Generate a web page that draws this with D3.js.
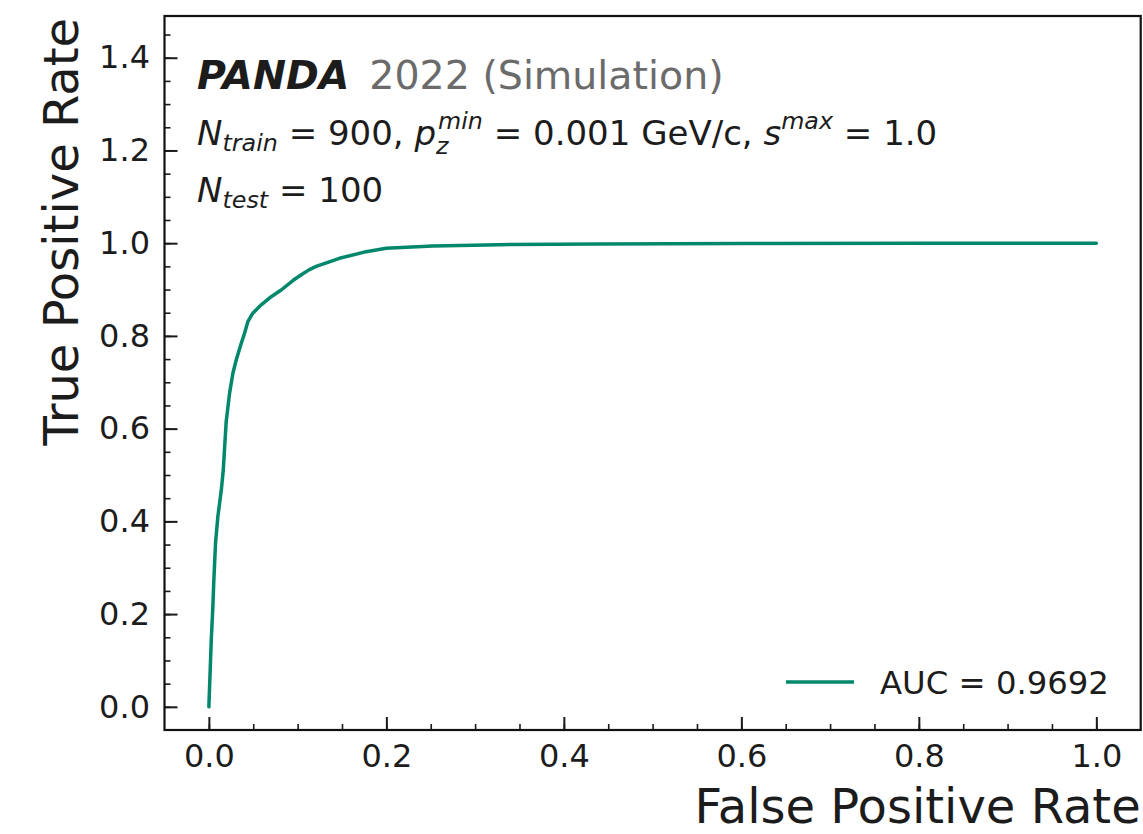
<!DOCTYPE html>
<html>
<head>
<meta charset="utf-8">
<script src="https://cdn.jsdelivr.net/npm/d3@7"></script>
<style>
  html, body { margin: 0; padding: 0; background: #fff; }
  svg { display: block; }
  text { font-family: "DejaVu Sans", sans-serif; }
</style>
</head>
<body>
<svg id="chart" width="1143" height="834"></svg>
<script>
// ---- data ----
const fpr = [0, 0.0027, 0.0045, 0.0056, 0.0075, 0.0101, 0.0140, 0.0162, 0.0195, 0.0233, 0.0270, 0.0308,
  0.0365, 0.0402, 0.0439, 0.0495, 0.0590, 0.0702, 0.0815, 0.0950, 0.1050, 0.1133, 0.1209, 0.1471, 0.1772,
  0.1997, 0.2521, 0.3272, 0.4398, 0.6, 0.8, 1.0];
const tpr = [0, 0.144, 0.216, 0.273, 0.353, 0.410, 0.4675, 0.510, 0.615, 0.676, 0.719, 0.748,
  0.784, 0.8056, 0.8306, 0.849, 0.867, 0.8846, 0.899, 0.920, 0.933, 0.943, 0.950, 0.9674, 0.9817,
  0.989, 0.994, 0.9968, 0.9983, 0.9992, 0.9997, 1.0];
const xTicks = [0.0, 0.2, 0.4, 0.6, 0.8, 1.0];
const yTicks = [0.0, 0.2, 0.4, 0.6, 0.8, 1.0, 1.2, 1.4];
const xMinorTicks = d3.range(0, 21).map(i => i * 0.05);
const yMinorTicks = d3.range(0, 30).map(i => i * 0.05);
const legendLabel = "AUC = 0.9692";
const xLabel = "False Positive Rate";
const yLabel = "True Positive Rate";

// ---- layout ----
const L = 164.5, R = 1140.7, T = 16, B = 730;
const lineColor = "#00876c";
const textColor = "#1c1c1c";

const svg = d3.select("#chart");
const x = d3.scaleLinear().domain([-0.05, 1.05]).range([L, R]);
const y = d3.scaleLinear().domain([-0.05, 1.49]).range([B, T]);

// curve
const pts = fpr.map((d, i) => [d, tpr[i]]);
svg.append("path")
  .datum(pts)
  .attr("fill", "none")
  .attr("stroke", lineColor)
  .attr("stroke-width", 3.5)
  .attr("stroke-linejoin", "round")
  .attr("stroke-linecap", "round")
  .attr("d", d3.line().x(d => x(d[0])).y(d => y(d[1])));

// axes: minor ticks
svg.append("g").attr("transform", `translate(0,${B})`)
  .call(d3.axisBottom(x).tickValues(xMinorTicks).tickSize(-6).tickFormat(""))
  .call(g => g.select(".domain").remove())
  .call(g => g.selectAll("line").attr("stroke", "#1a1a1a").attr("stroke-width", 1.6));
svg.append("g").attr("transform", `translate(${L},0)`)
  .call(d3.axisLeft(y).tickValues(yMinorTicks).tickSize(-6).tickFormat(""))
  .call(g => g.select(".domain").remove())
  .call(g => g.selectAll("line").attr("stroke", "#1a1a1a").attr("stroke-width", 1.6));

// major ticks
svg.append("g").attr("transform", `translate(0,${B})`)
  .call(d3.axisBottom(x).tickValues(xTicks).tickSize(-13).tickPadding(14).tickFormat(d3.format(".1f")))
  .call(g => g.select(".domain").remove())
  .call(g => g.selectAll("line").attr("stroke", "#1a1a1a").attr("stroke-width", 2))
  .call(g => g.selectAll("text").attr("font-size", 32).attr("fill", textColor)
    .style("font-family", "'DejaVu Sans', sans-serif"));
svg.append("g").attr("transform", `translate(${L},0)`)
  .call(d3.axisLeft(y).tickValues(yTicks).tickSize(-13).tickPadding(14.5).tickFormat(d3.format(".1f")))
  .call(g => g.select(".domain").remove())
  .call(g => g.selectAll("line").attr("stroke", "#1a1a1a").attr("stroke-width", 2))
  .call(g => g.selectAll("text").attr("font-size", 32).attr("fill", textColor)
    .style("font-family", "'DejaVu Sans', sans-serif"));

// frame
svg.append("rect")
  .attr("x", L).attr("y", T).attr("width", R - L).attr("height", B - T)
  .attr("fill", "none").attr("stroke", "#111").attr("stroke-width", 2.2);

// axis labels
svg.append("text")
  .attr("x", R).attr("y", 823)
  .attr("text-anchor", "end")
  .attr("font-size", 48).attr("fill", textColor)
  .text(xLabel);
svg.append("text")
  .attr("transform", `translate(78,${T + 2}) rotate(-90)`)
  .attr("text-anchor", "end")
  .attr("font-size", 48).attr("fill", textColor)
  .text(yLabel);

// legend
const lgY = 682;
svg.append("line")
  .attr("x1", 786).attr("x2", 854).attr("y1", lgY).attr("y2", lgY)
  .attr("stroke", lineColor).attr("stroke-width", 3.5);
svg.append("text")
  .attr("x", 880).attr("y", lgY + 12)
  .attr("font-size", 32.3).attr("fill", textColor)
  .text(legendLabel);

// rich text helper: one <text> element, positioned tspans
function rich(x0, y0, segs) {
  let cx = x0;
  const t = svg.append("text").attr("fill", textColor).attr("xml:space", "preserve")
    .style("white-space", "pre");
  const put = (s, px) => {
    const ts = t.append("tspan")
      .attr("x", px).attr("y", y0 + (s.dy || 0))
      .attr("font-size", s.size)
      .attr("font-style", s.italic ? "italic" : "normal")
      .attr("font-weight", s.bold ? "bold" : "normal")
      .attr("fill", s.fill || textColor)
      .text(s.t);
    return ts.node().getComputedTextLength();
  };
  segs.forEach(s => {
    cx += s.gap || 0;
    if (s.stack) {
      const w = Math.max(...s.stack.map(q => put(q, cx + (q.dx || 0)) + (q.dx || 0)));
      cx += w;
    } else {
      cx += put(s, cx);
    }
  });
  return cx;
}

const Fs = 39.5;
rich(197, 89, [
  { t: "PANDA", size: Fs, italic: true, bold: true, fill: "#1c1c1c" },
  { t: "2022 (Simulation)", size: Fs, fill: "#6b6b6b", gap: 20 }
]);

const B2 = 34, S2 = B2 * 0.7;
rich(197, 145, [
  { t: "N", size: B2, italic: true },
  { t: "train", size: S2, italic: true, dy: 6 },
  { t: " = 900, ", size: B2 },
  { t: "p", size: B2, italic: true },
  { stack: [
      { t: "min", size: S2, italic: true, dy: -16, dx: 2 },
      { t: "z", size: S2, italic: true, dy: 9 }
    ] },
  { t: " = 0.001 GeV/c, ", size: B2 },
  { t: "s", size: B2, italic: true },
  { t: "max", size: S2, italic: true, dy: -16 },
  { t: " = 1.0", size: B2 }
]);

rich(197, 202, [
  { t: "N", size: B2, italic: true },
  { t: "test", size: S2, italic: true, dy: 6 },
  { t: " = 100", size: B2 }
]);
</script>
</body>
</html>
